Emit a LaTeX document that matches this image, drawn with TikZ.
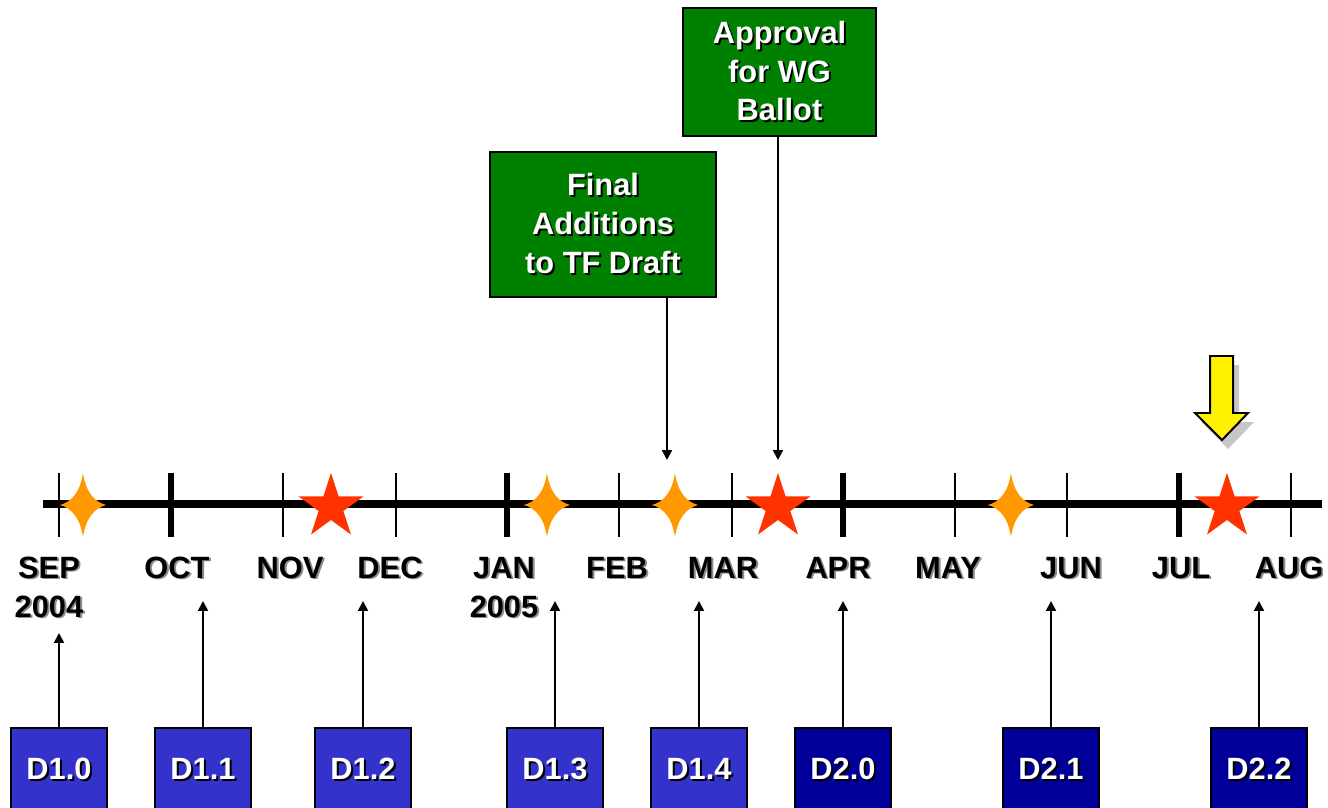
\documentclass[tikz,border=0pt]{standalone}
\usepackage{fontspec}
\setmainfont{Liberation Sans}
\usetikzlibrary{shapes.geometric,arrows.meta}
\definecolor{dblue}{HTML}{3333CC}
\definecolor{navyb}{HTML}{000099}
\definecolor{dgreen}{HTML}{008000}
\definecolor{orng}{HTML}{FF9900}
\definecolor{redst}{HTML}{FF3300}
\definecolor{shgray}{HTML}{8C8C8C}
\newcommand\shd[2]{\leavevmode\rlap{\kern1.4pt\raisebox{-1.4pt}{\textcolor{#1}{#2}}}#2}
\newcommand\bigfont{\bfseries\fontsize{21.9}{27.4}\selectfont}
\tikzset{
  month/.style={font=\bigfont, anchor=base, inner sep=0pt},
  dboxa/.style={draw=black, line width=1.8pt, fill=dblue, minimum width=2.4cm, minimum height=2.1cm, inner sep=0pt, font=\bigfont, text=white},
  dboxb/.style={dboxa, fill=navyb},
  gbox/.style={draw=black, line width=1.8pt, fill=dgreen, text=white, align=center, font=\bigfont, inner sep=0pt},
  conn/.style={line width=1.4pt, -{Triangle[length=7pt,width=7pt]}},
  redstar/.style={star, star points=5, star point ratio=2.618, minimum size=1.7cm, inner sep=0pt, fill=redst},
  thintick/.style={line width=2pt},
  thicktick/.style={line width=4.3pt},
  spark/.pic={\fill[orng] (0,-32) .. controls (3,-12) and (12,-3) .. (23,0) .. controls (12,3) and (3,12) .. (0,32) .. controls (-3,12) and (-12,3) .. (-23,0) .. controls (-12,-3) and (-3,-12) .. cycle;}
}
\begin{document}
\begin{tikzpicture}[x=0.025cm,y=-0.025cm]
\path[use as bounding box] (0,0) rectangle (1328,808);
\clip (0,0) rectangle (1328,808);
% axis
\draw[line width=5.7pt] (43,504) -- (1322,504);
\foreach \x in {59,283,396,619,732,955,1067,1291} \draw[thintick] (\x,473) -- (\x,537);
\foreach \x in {171,507,843,1179} \draw[thicktick] (\x,473) -- (\x,537);
% milestones
\pic at (83,505) {spark};
\pic at (547,505) {spark};
\pic at (675,505) {spark};
\pic at (1011,505) {spark};
\node[redstar] (s1) at (331,507) {};
\node[redstar] (s2) at (778,507) {};
\node[redstar] (s3) at (1227,507) {};
% month labels
\node[month] (m1) at (49,578) {\shd{shgray}{SEP}};
\node[month] (y1) at (49,617) {\shd{shgray}{2004}};
\node[month] (m2) at (177,578) {\shd{shgray}{OCT}};
\node[month] (m3) at (290,578) {\shd{shgray}{NOV}};
\node[month] (m4) at (390,578) {\shd{shgray}{DEC}};
\node[month] (m5) at (504,578) {\shd{shgray}{JAN}};
\node[month] (y2) at (504,617) {\shd{shgray}{2005}};
\node[month] (m6) at (617,578) {\shd{shgray}{FEB}};
\node[month] (m7) at (723,578) {\shd{shgray}{MAR}};
\node[month] (m8) at (838,578) {\shd{shgray}{APR}};
\node[month] (m9) at (948,578) {\shd{shgray}{MAY}};
\node[month] (m10) at (1071,578) {\shd{shgray}{JUN}};
\node[month] (m11) at (1181,578) {\shd{shgray}{JUL}};
\node[month] (m12) at (1289,578) {\shd{shgray}{AUG}};
% draft boxes
\node[dboxa] (d10) at (59,770) {\shd{black}{D1.0}};
\node[dboxa] (d11) at (203,770) {\shd{black}{D1.1}};
\node[dboxa] (d12) at (363,770) {\shd{black}{D1.2}};
\node[dboxa] (d13) at (555,770) {\shd{black}{D1.3}};
\node[dboxa] (d14) at (699,770) {\shd{black}{D1.4}};
\node[dboxb] (d20) at (843,770) {\shd{black}{D2.0}};
\node[dboxb] (d21) at (1051,770) {\shd{black}{D2.1}};
\node[dboxb] (d22) at (1259,770) {\shd{black}{D2.2}};
\coordinate (a10) at (59,633);
\coordinate (a11) at (203,601);
\coordinate (a12) at (363,601);
\coordinate (a13) at (555,601);
\coordinate (a14) at (699,601);
\coordinate (a20) at (843,601);
\coordinate (a21) at (1051,601);
\coordinate (a22) at (1259,601);
\foreach \n in {10,11,12,13,14,20,21,22} \draw[conn] (d\n.north) -- (a\n);
% green boxes
\node[gbox, minimum width=5.65cm, minimum height=3.625cm] (g1) at (603,224.5)
  {\shd{black}{Final}\\\shd{black}{Additions}\\\shd{black}{to TF Draft}};
\node[gbox, minimum width=4.825cm, minimum height=3.2cm] (g2) at (779.5,72)
  {\shd{black}{Approval}\\\shd{black}{for WG}\\\shd{black}{Ballot}};
\coordinate (t1) at (667,460);
\coordinate (t2) at (778,460);
\draw[conn] (g1.south -| t1) -- (t1);
\draw[conn] (g2.south -| t2) -- (t2);
% current position arrow
\fill[gray!45] (1216,365) -- (1239,365) -- (1239,422) -- (1254,422) -- (1228,449) -- (1201,422) -- (1216,422) -- cycle;
\draw[fill=yellow, line width=1.4pt] (1210,356) -- (1233,356) -- (1233,413) -- (1248,413) -- (1222,440) -- (1195,413) -- (1210,413) -- cycle;
\end{tikzpicture}
\end{document}
